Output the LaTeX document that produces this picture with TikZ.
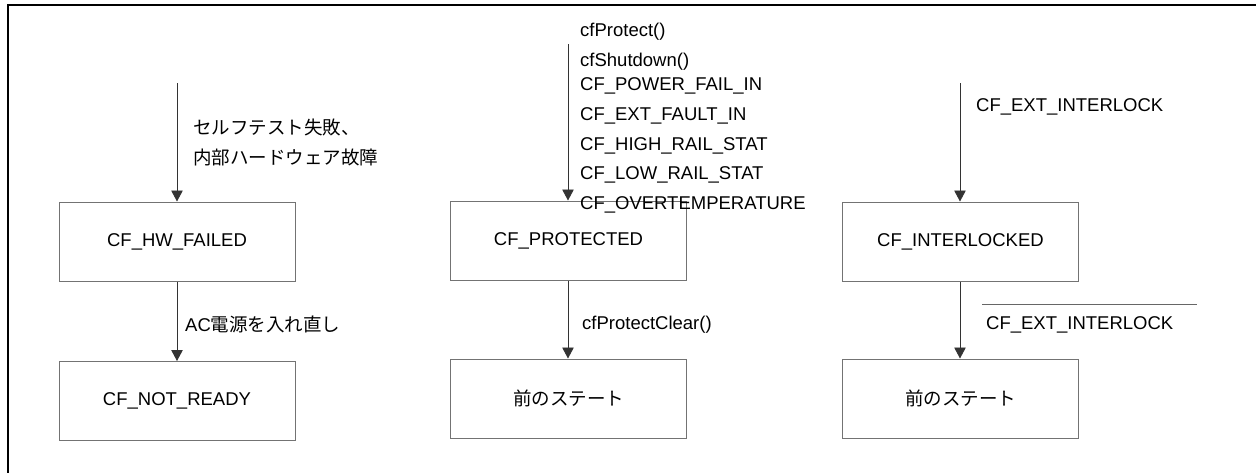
\documentclass[tikz,border=0pt]{standalone}
\usepackage{fontspec}
\setmainfont{Liberation Sans}
\newfontfamily\cjk{Noto Sans CJK JP}
\usetikzlibrary{arrows.meta}
\begin{document}
\begin{tikzpicture}[x=1pt,y=-1pt,
  state/.style={draw=black!55,line width=1pt,minimum width=236pt,minimum height=79pt,inner sep=0pt,font=\fontsize{18.5}{22}\selectfont},
  lbl/.style={anchor=base west,inner sep=0pt,font=\fontsize{18.5}{22}\selectfont},
  trans/.style={draw=black!80,line width=0.9pt,-{Triangle[width=11.5pt,length=11pt]}},
  frameline/.style={line width=2pt,line cap=rect},
  negbar/.style={draw=black!60,line width=1pt}]
\useasboundingbox (0,0) rectangle (1256,472);
\draw[frameline] (7.5,474) -- (7.5,5) -- (1258,5);

% states
\node[state] (hw) at (177,241.5) {CF\_HW\_FAILED};
\node[state] (nr) at (177,401) {CF\_NOT\_READY};
\node[state] (pr) at (568.5,240.5) {CF\_PROTECTED};
\node[state] (pv1) at (568.5,398.5) {\cjk 前のステート};
\node[state] (il) at (960.5,241.5) {CF\_INTERLOCKED};
\node[state] (pv2) at (960.5,398.5) {\cjk 前のステート};

% start points
\coordinate (s1) at (177,83);
\coordinate (s2) at (568,44);
\coordinate (s3) at (960,83);

% transitions
\draw[trans] (s1) -- (s1 |- hw.north);
\draw[trans] (hw.south) -- (nr.north);
\draw[trans] (s2) -- (s2 |- pr.north);
\draw[trans] (s2 |- pr.south) -- (s2 |- pv1.north);
\draw[trans] (s3) -- (s3 |- il.north);
\draw[trans] (s3 |- il.south) -- (s3 |- pv2.north);

% labels left
\node[lbl] (t1a) at (193,134) {\cjk セルフテスト失敗、};
\node[lbl] (t1b) at (193,164) {\cjk 内部ハードウェア故障};
\node[lbl] (t2) at (185,331.5) {AC{\cjk 電源を入れ直し}};

% labels middle
\node[lbl] (m1) at (580,36) {cfProtect()};
\node[lbl] (m2) at (580,66) {cfShutdown()};
\node[lbl] (m3) at (580,90) {CF\_POWER\_FAIL\_IN};
\node[lbl] (m4) at (580,120) {CF\_EXT\_FAULT\_IN};
\node[lbl] (m5) at (580,150) {CF\_HIGH\_RAIL\_STAT};
\node[lbl] (m6) at (580,179) {CF\_LOW\_RAIL\_STAT};
\node[lbl] (m7) at (580,209) {CF\_OVERTEMPERATURE};
\node[lbl] (m8) at (582,329) {cfProtectClear()};

% labels right
\node[lbl] (r1) at (976,111.5) {CF\_EXT\_INTERLOCK};
\node[lbl] (r2) at (986,329.5) {CF\_EXT\_INTERLOCK};
\coordinate (ob1) at (982,304);
\coordinate (ob2) at (1197,304);
\draw[negbar] (ob1) -- (ob2);
\end{tikzpicture}
\end{document}
